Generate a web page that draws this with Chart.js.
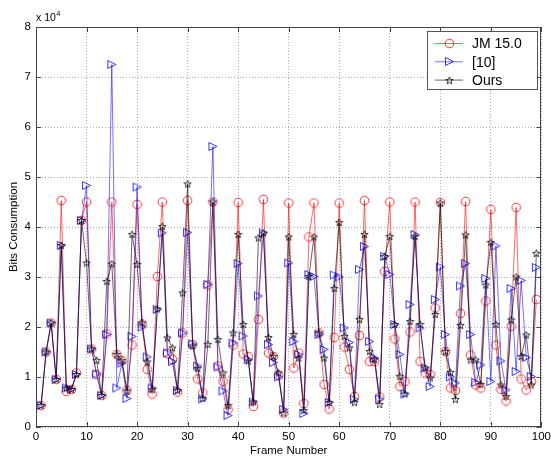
<!DOCTYPE html>
<html><head><meta charset="utf-8">
<script src="https://cdn.jsdelivr.net/npm/chart.js@4.4.0/dist/chart.umd.min.js"></script>
<style>html,body{margin:0;padding:0;background:#fff;}#wrap{width:554px;height:459px;position:relative;}</style>
</head><body><div id="wrap"><canvas id="c" width="554" height="459"></canvas></div>
<script>
const frames = [1,2,3,4,5,6,7,8,9,10,11,12,13,14,15,16,17,18,19,20,21,22,23,24,25,26,27,28,29,30,31,32,33,34,35,36,37,38,39,40,41,42,43,44,45,46,47,48,49,50,51,52,53,54,55,56,57,58,59,60,61,62,63,64,65,66,67,68,69,70,71,72,73,74,75,76,77,78,79,80,81,82,83,84,85,86,87,88,89,90,91,92,93,94,95,96,97,98,99];
const jm = [0.43,1.5,2.08,0.95,4.53,0.71,0.75,1.08,4.13,4.5, 1.56,1.05,0.63,1.86,4.5,1.45,1.33,0.73,1.64,4.45, 2.06,1.15,0.66,3.01,4.5,1.47,1.35,0.7,1.88,4.53, 1.65,0.96,0.68,2.84,4.5,1.22,0.91,0.35,1.64,4.49, 1.46,1.41,0.41,2.15,4.55,1.48,1.41,1.03,0.28,4.48, 1.18,1.48,0.47,3.8,4.48,1.88,0.85,0.36,1.79,4.48, 1.6,1.15,0.61,1.83,4.53,1.31,1.31,0.6,3.11,4.5, 1.76,0.81,0.91,1.9,4.5,1.31,1.08,1.05,2.38,4.49, 1.51,0.78,0.73,2.27,4.51,1.44,0.84,0.78,2.52,4.35, 1.64,0.75,0.52,2.01,4.39,0.96,0.74,0.91,2.55];
const ref10 = [0.43,1.5,2.08,0.95,3.63,0.78,0.75,1.05,4.13,4.83, 1.56,1.06,0.63,1.85,7.25,0.78,1.28,0.57,1.81,4.8, 2.0,1.4,0.78,2.35,3.88,1.48,1.31,0.73,1.88,3.89, 1.66,1.22,0.56,2.85,5.61,1.2,0.72,0.23,1.68,3.27, 1.82,1.35,0.5,2.62,3.88,1.65,1.29,1.0,0.35,3.28, 1.71,1.45,0.27,3.05,3.01,1.85,1.55,0.49,3.04,3.0, 1.98,1.69,0.55,3.15,3.61,1.71,1.38,0.56,3.41,3.05, 2.05,1.45,0.66,2.45,3.85,1.98,1.18,0.81,2.55,3.2, 1.85,1.0,0.88,2.82,3.27,1.85,0.89,1.24,2.97,0.91, 3.62,1.32,0.74,2.77,1.11,2.93,1.39,1.01,3.19];
const ours = [0.43,1.5,2.08,0.95,3.63,0.78,0.75,1.05,4.13,3.28, 1.56,1.33,0.63,2.91,3.26,1.45,1.33,0.72,3.85,3.25, 2.08,1.3,0.75,2.36,4.01,1.78,1.58,0.73,2.68,4.86, 1.62,1.17,0.57,1.65,4.5,1.75,1.08,0.43,1.88,3.85, 2.05,1.32,0.5,3.78,3.88,1.79,1.41,1.08,0.28,3.8, 1.85,1.38,0.33,3.01,3.8,1.88,1.38,0.49,2.77,4.09, 1.81,1.58,0.49,2.15,3.85,1.51,1.35,0.45,3.41,3.81, 2.05,1.01,0.66,2.11,3.81,2.05,1.18,0.98,2.25,4.48, 1.51,1.09,0.55,2.03,3.84,1.34,1.34,0.85,2.84,3.69, 2.05,0.84,0.61,2.14,3.0,1.41,1.84,0.84,3.47];
const seriesLabels = ['JM 15.0','[10]','Ours'];
const xTicks = [0,10,20,30,40,50,60,70,80,90,100];
const yTicks = [0,1,2,3,4,5,6,7,8];

const FONT = '"Liberation Sans", Arial, Helvetica, sans-serif';

function mkCanvas(w, h, draw) {
  const c = document.createElement('canvas'); c.width = w; c.height = h;
  const g = c.getContext('2d'); draw(g); return c;
}
const circleImg = mkCanvas(11, 11, g => { g.strokeStyle = 'rgba(255,0,0,0.8)'; g.lineWidth = 1; g.beginPath(); g.arc(5.5, 5.5, 4.3, 0, Math.PI*2); g.stroke(); });
const triImg = mkCanvas(11, 11, g => { g.strokeStyle = 'rgba(0,0,255,0.8)'; g.lineWidth = 1; g.beginPath(); g.moveTo(1.5,1.5); g.lineTo(1.5,9.5); g.lineTo(9.5,5.5); g.closePath(); g.stroke(); });
const starImg = mkCanvas(9, 9, g => {
  g.strokeStyle = 'rgba(0,0,0,0.85)'; g.lineWidth = 0.9; g.beginPath();
  for (let i = 0; i < 10; i++) {
    const r = i % 2 === 0 ? 3.9 : 1.6;
    const a = -Math.PI/2 + i*Math.PI/5;
    const px = 4.5 + r*Math.cos(a), py = 4.7 + r*Math.sin(a);
    if (i === 0) g.moveTo(px, py); else g.lineTo(px, py);
  }
  g.closePath(); g.stroke();
});

const toPts = vals => frames.map((f, i) => ({x: f, y: vals[i]}));
const styles = [
  {color: 'rgba(255,0,0,0.6)', img: circleImg},
  {color: 'rgba(0,0,255,0.55)', img: triImg},
  {color: 'rgba(0,0,0,0.6)', img: starImg}
];
const series = [jm, ref10, ours];

const matlabPlugin = {
  id: 'matlab',
  afterDatasetsDraw(chart) {
    const {ctx, chartArea: a, scales} = chart;
    ctx.save();
    ctx.strokeStyle = '#444'; ctx.lineWidth = 1;
    ctx.strokeRect(Math.round(a.left)+0.5, Math.round(a.top)+0.5, Math.round(a.right-a.left)-1, Math.round(a.bottom-a.top)-1);
    ctx.beginPath();
    const tl = 5;
    xTicks.forEach(v => { const x = Math.round(scales.x.getPixelForValue(v))+0.5;
      ctx.moveTo(x, a.bottom); ctx.lineTo(x, a.bottom - tl); ctx.moveTo(x, a.top); ctx.lineTo(x, a.top + tl); });
    yTicks.forEach(v => { const y = Math.round(scales.y.getPixelForValue(v))+0.5;
      ctx.moveTo(a.left, y); ctx.lineTo(a.left + tl, y); ctx.moveTo(a.right, y); ctx.lineTo(a.right - tl, y); });
    ctx.stroke();
    // exponent label
    ctx.fillStyle = '#000'; ctx.textBaseline = 'alphabetic'; ctx.textAlign = 'left';
    ctx.font = '10.5px ' + FONT; ctx.fillText('x 10', a.left, a.top - 6);
    const w = ctx.measureText('x 10').width;
    ctx.font = '7.5px ' + FONT; ctx.fillText('4', a.left + w + 0.5, a.top - 11);
    // legend
    const bx = 427.5, by = 31.5, bw = 110, bh = 58;
    ctx.fillStyle = '#fff'; ctx.fillRect(bx, by, bw, bh);
    ctx.strokeStyle = '#555'; ctx.strokeRect(bx, by, bw, bh);
    ctx.font = '14px ' + FONT; ctx.textBaseline = 'middle';
    seriesLabels.forEach((lab, i) => {
      const y = 43.5 + i * 18.3;
      ctx.strokeStyle = styles[i].color; ctx.lineWidth = 1;
      ctx.beginPath(); ctx.moveTo(435, y); ctx.lineTo(463, y); ctx.stroke();
      const img = styles[i].img;
      ctx.drawImage(img, Math.round(449 - img.width/2), Math.round(y - img.height/2));
      ctx.fillStyle = '#000'; ctx.fillText(lab, 472, y + 1);
    });
    ctx.restore();
  }
};

new Chart(document.getElementById('c'), {
  type: 'line',
  data: {
    datasets: series.map((vals, i) => ({
      label: seriesLabels[i],
      data: toPts(vals),
      borderColor: styles[i].color,
      borderWidth: 1,
      pointStyle: styles[i].img,
      pointRadius: 4,
      pointHoverRadius: 4,
      fill: false,
      tension: 0,
      order: 3 - i
    }))
  },
  options: {
    responsive: false,
    animation: false,
    events: [],
    layout: {padding: {top: 27, right: 11, left: 0, bottom: 0}},
    plugins: {legend: {display: false}, tooltip: {enabled: false}},
    scales: {
      x: {
        type: 'linear', min: 0, max: 100,
        afterFit: s => { s.height = 32; },
        afterBuildTicks: s => { s.ticks = xTicks.map(v => ({value: v})); },
        ticks: {font: {family: FONT, size: 11.5}, color: '#000', padding: 3, maxRotation: 0},
        grid: {color: 'rgba(0,0,0,0.32)', lineWidth: 1, drawTicks: false},
        border: {display: false, dash: [1, 2]},
        title: {display: true, text: 'Frame Number', font: {family: FONT, size: 11.5}, color: '#000', padding: {top: 0, bottom: 1}}
      },
      y: {
        type: 'linear', min: 0, max: 8,
        afterFit: s => { s.width = 36; },
        afterBuildTicks: s => { s.ticks = yTicks.map(v => ({value: v})); },
        ticks: {font: {family: FONT, size: 11.5}, color: '#000', padding: 5},
        grid: {color: 'rgba(0,0,0,0.32)', lineWidth: 1, drawTicks: false},
        border: {display: false, dash: [1, 2]},
        title: {display: true, text: 'Bits Consumption', font: {family: FONT, size: 11.5}, color: '#000', padding: {top: 7, bottom: 0}}
      }
    }
  },
  plugins: [matlabPlugin]
});
</script></body></html>
